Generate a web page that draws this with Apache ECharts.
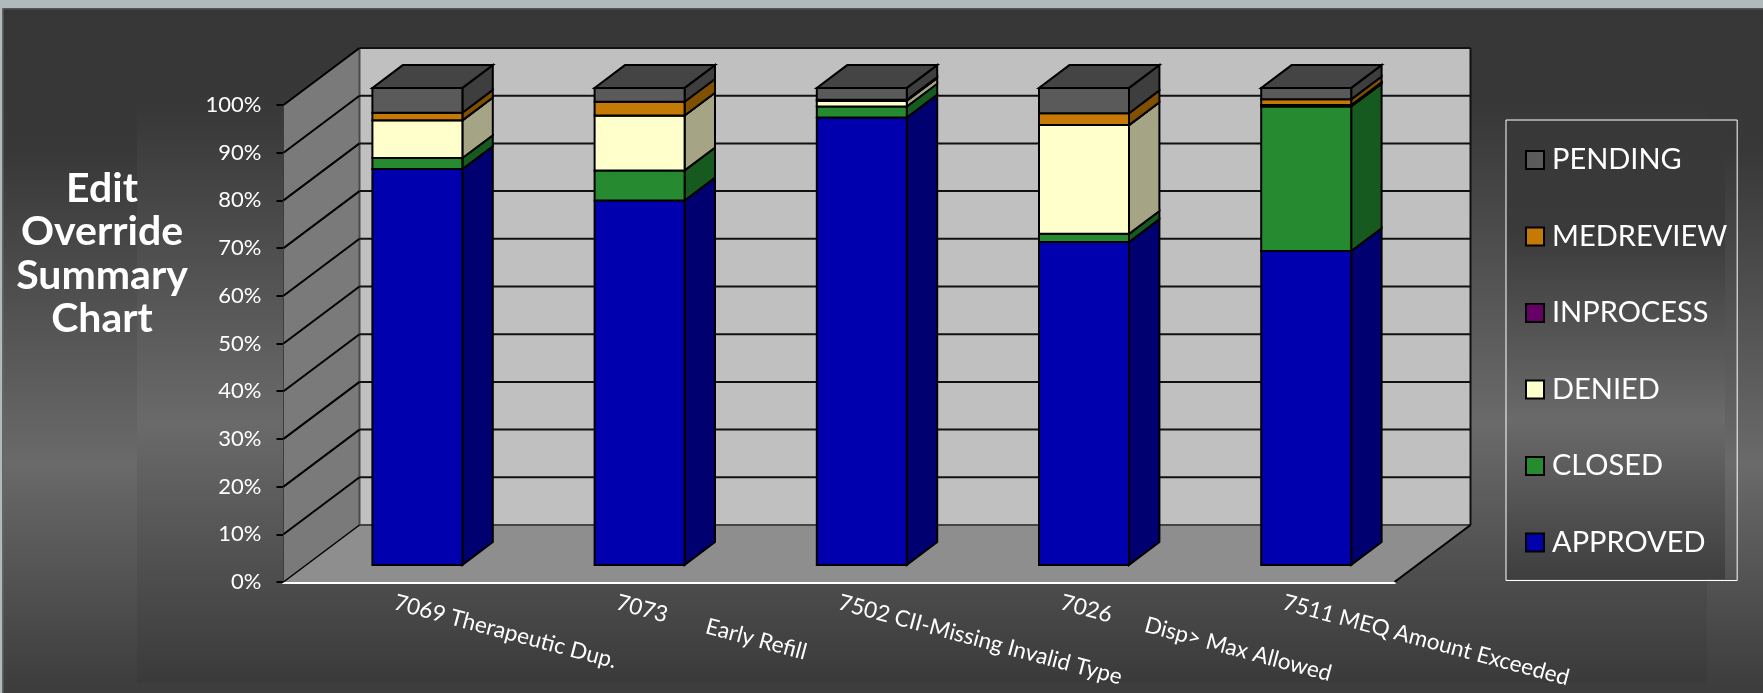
<!DOCTYPE html>
<html><head><meta charset="utf-8">
<style>html,body{margin:0;padding:0;background:#b0babc}#c{width:1763px;height:693px}</style>
<script src="https://cdn.jsdelivr.net/npm/echarts@6/dist/echarts.min.js"></script>
</head><body><div id="c"></div>
<script>
const categories = ['7069 Therapeutic Dup.','7073       Early Refill','7502 CII-Missing Invalid Type','7026      Disp> Max Allowed','7511 MEQ Amount Exceeded'];
const approved  = [83.0, 76.4, 93.8, 67.7, 65.8];
const closed    = [2.3, 6.3, 2.3, 1.7, 30.3];
const denied    = [7.9, 11.5, 1.2, 22.8, 0.2];
const inprocess = [0, 0, 0, 0, 0.1];
const medreview = [1.6, 2.9, 0.2, 2.5, 1.2];
const pending   = [5.2, 2.9, 2.5, 5.3, 2.4];
const tickValues = [0,10,20,30,40,50,60,70,80,90,100];
const seriesNames = ['APPROVED','CLOSED','DENIED','INPROCESS','MEDREVIEW','PENDING'];
const seriesValues = [approved, closed, denied, inprocess, medreview, pending];
const frontColors = ['#0000AE','#258A30','#FFFFCC','#660066','#C47A05','#5A5A5A'];
const sideColors  = ['#000070','#175A1F','#A5A585','#400040','#805000','#3E3E3E'];

const DX=76, DY=-57;                 // wall depth in pixels
const BAR_F=0.30, BAR_B=0.70;        // bar front/back as a fraction of depth
const BAR_W=90;

function wallItem(params, api){
  const v=api.value(0), cs=params.coordSys;
  const y=api.coord([0,v])[1], x0=cs.x, x1=cs.x+cs.width;
  const kids=[];
  if(v===0){
    const top=api.coord([0,100])[1];
    kids.push({type:'polygon',shape:{points:[[x0+DX,top+DY],[x1+DX,top+DY],[x1+DX,y+DY],[x0+DX,y+DY]]},style:{fill:'#C0C0C0',stroke:'none'}});
    kids.push({type:'polygon',shape:{points:[[x0,top],[x0+DX,top+DY],[x0+DX,y+DY],[x0,y]]},style:{fill:'#7A7A7A',stroke:'none'}});
    kids.push({type:'polygon',shape:{points:[[x0,y],[x0+DX,y+DY],[x1+DX,y+DY],[x1,y]]},style:{fill:'#8E8E8E',stroke:'none'}});
    kids.push({type:'line',shape:{x1:x0+DX,y1:y+DY,x2:x1+DX,y2:y+DY},style:{stroke:'#444',lineWidth:2}});
    kids.push({type:'line',shape:{x1:x0+DX,y1:top+DY,x2:x0+DX,y2:y+DY},style:{stroke:'#4a4a4a',lineWidth:2}});
    kids.push({type:'line',shape:{x1:x1+DX,y1:top+DY,x2:x1+DX,y2:y+DY},style:{stroke:'#111',lineWidth:2}});
    kids.push({type:'line',shape:{x1:x1,y1:y,x2:x1+DX,y2:y+DY},style:{stroke:'#000',lineWidth:2}});
    kids.push({type:'line',shape:{x1:x0,y1:y,x2:x0+DX,y2:y+DY},style:{stroke:'#000',lineWidth:1.5}});
  } else {
    kids.push({type:'line',shape:{x1:x0,y1:y,x2:x0+DX,y2:y+DY},style:{stroke:'#000',lineWidth:2}});
    kids.push({type:'line',shape:{x1:x0+DX,y1:y+DY,x2:x1+DX,y2:y+DY},style:{stroke:'#111',lineWidth:2}});
  }
  return {type:'group',children:kids};
}

function barItem(k){
  return function(params, api){
    const c=api.value(0), lo=api.value(1), hi=api.value(2);
    const a=api.coord([c,lo]), b=api.coord([c,hi]);
    const fx=DX*BAR_F, fy=DY*BAR_F, bx=DX*BAR_B, by=DY*BAR_B;
    const L=a[0]+fx-BAR_W/2, R=a[0]+fx+BAR_W/2, yl=a[1]+fy, yh=b[1]+fy;
    const sx=bx-fx, sy=by-fy;
    const st={stroke:'#000',lineWidth:2,lineJoin:'miter'};
    const kids=[
      {type:'polygon',shape:{points:[[R,yl],[R+sx,yl+sy],[R+sx,yh+sy],[R,yh]]},style:Object.assign({fill:sideColors[k]},st)},
      {type:'polygon',shape:{points:[[L,yl],[R,yl],[R,yh],[L,yh]]},style:Object.assign({fill:frontColors[k]},st)}
    ];
    if(k===seriesNames.length-1){
      kids.push({type:'polygon',shape:{points:[[L,yh],[R,yh],[R+sx,yh+sy],[L+sx,yh+sy]]},style:Object.assign({fill:'#444444'},st)});
    }
    return {type:'group',children:kids};
  };
}

const running=categories.map(()=>0);
const barSeries=seriesNames.map((name,k)=>{
  const data=seriesValues[k].map((v,i)=>{const lo=running[i];running[i]=lo+v;return [i,lo,running[i]];});
  return {name,type:'custom',coordinateSystem:'cartesian2d',renderItem:barItem(k),clip:false,z:3+k,
    encode:{x:0,y:[1,2]},itemStyle:{color:frontColors[k],borderColor:'#000',borderWidth:2},data};
});

function band(x,y,w,h,stops){
  return {type:'rect',z:-1,shape:{x,y,width:w,height:h},silent:true,
    style:{fill:{type:'linear',x:0,y:0,x2:0,y2:1,colorStops:stops.map(s=>({offset:(s[0]-y)/h,color:s[1]}))}}};
}

const chart=echarts.init(document.getElementById('c'),null,{renderer:'canvas'});
chart.setOption({
  animation:false,
  backgroundColor:'#3a3a3a',
  textStyle:{fontFamily:'Lato',color:'#fff'},
  title:{text:'Edit\nOverride\nSummary\nChart',left:97,top:162,textAlign:'center',
    textStyle:{color:'#fff',fontFamily:'Lato',fontWeight:'bold',fontSize:41,lineHeight:43.5}},
  legend:{orient:'vertical',left:1506,top:120,data:seriesNames.slice().reverse(),icon:'rect',
    padding:[25,10,23,19],itemWidth:18,itemHeight:18,itemGap:46.5,borderColor:'#fff',borderWidth:1,
    itemStyle:{borderColor:'#000',borderWidth:2},
    selectedMode:false,textStyle:{color:'#fff',fontFamily:'Lato',fontSize:29,lineHeight:30,padding:[0,0,0,3]}},
  grid:{left:283.5,top:105,width:1111,height:477,containLabel:false},
  xAxis:{type:'category',data:categories,
    axisLine:{show:true,lineStyle:{color:'#fff',width:3}},axisTick:{show:false},
    axisLabel:{interval:0,rotate:-15,margin:20,hideOverlap:false,color:'#fff',fontFamily:'Lato',fontSize:22.5}},
  yAxis:{type:'value',min:0,max:100,interval:10,
    axisLine:{show:true,lineStyle:{color:'#000',width:2}},axisTick:{show:true,length:7,lineStyle:{color:'#000',width:2}},
    splitLine:{show:false},
    axisLabel:{margin:22,padding:[4,0,0,0],color:'#fff',fontFamily:'Lato',fontSize:22,formatter:'{value}%'}},
  graphic:[
    band(0,8,1763,685,[[10,'#363636'],[150,'#383838'],[463,'#6A6A6A'],[693,'#3C3C3C']]),
    band(137,10,1570,673,[[10,'#363636'],[110,'#383838'],[423,'#6A6A6A'],[683,'#3A3A3A']]),
    band(1506,119,219,460,[[119,'#383838'],[230,'#3A3A3A'],[420,'#6A6A6A'],[579,'#3E3E3E']]),
    {type:'rect',z:-1,shape:{x:0,y:0,width:1763,height:8},style:{fill:'#B0BABC'}},
    {type:'rect',z:-1,shape:{x:0,y:0,width:2,height:693},style:{fill:'#B0BABC'}},
    {type:'rect',z:-1,shape:{x:2,y:8,width:1761,height:1.5},style:{fill:'#555'}},
    {type:'rect',z:-1,shape:{x:2,y:8,width:1.5,height:685},style:{fill:'#666'}}
  ],
  series:[
    {name:'walls',type:'custom',coordinateSystem:'cartesian2d',renderItem:wallItem,clip:false,z:1,encode:{y:0},
     data:tickValues.map(v=>[v])}
  ].concat(barSeries)
});
</script></body></html>
